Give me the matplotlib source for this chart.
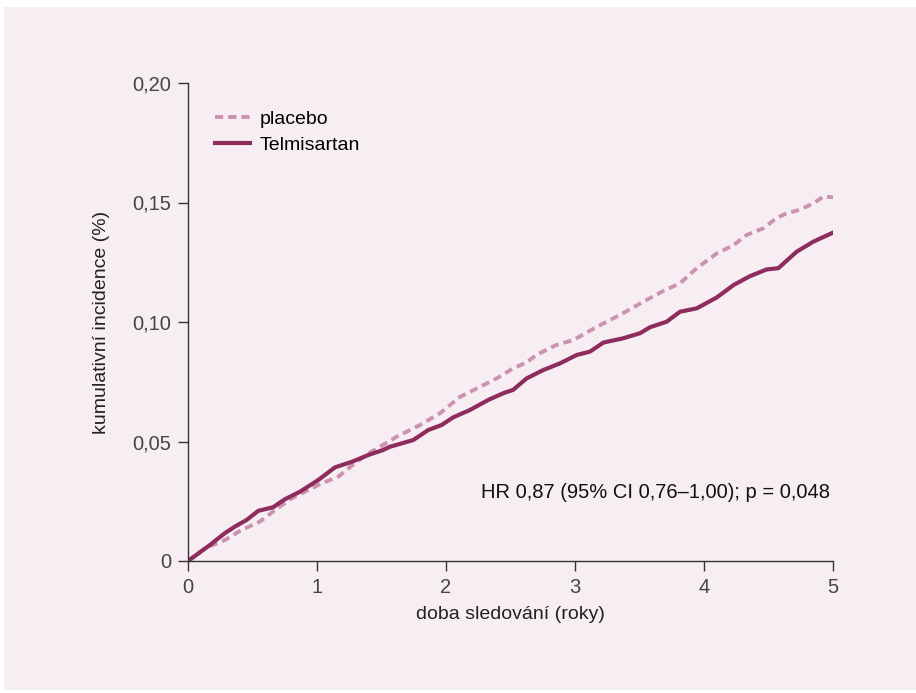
import matplotlib.pyplot as plt
from matplotlib.patches import Rectangle

# kumulativni incidence
placebo_t = [0, 0.132, 0.287, 0.416, 0.558, 0.674, 0.804, 0.907, 1.036, 1.165, 1.295, 1.42,
             1.51, 1.618, 1.798, 1.953, 2.109, 2.264, 2.393, 2.52, 2.625, 2.7, 2.856, 2.99,
             3.17, 3.35, 3.53, 3.685, 3.814, 3.943, 4.1, 4.23, 4.33, 4.46, 4.56, 4.64, 4.74,
             4.85, 4.925, 5.0]
placebo_y = [0, 0.0053, 0.0088, 0.0130, 0.0165, 0.0213, 0.0262, 0.0290, 0.0325, 0.0353, 0.0410,
             0.0457, 0.0485, 0.0520, 0.0569, 0.0618, 0.0687, 0.0729, 0.0764, 0.0806, 0.0831,
             0.0862, 0.0904, 0.0925, 0.0980, 0.1030, 0.1085, 0.1130, 0.1162, 0.1225, 0.1287,
             0.1322, 0.1364, 0.1392, 0.1434, 0.1455, 0.1469, 0.1497, 0.1525, 0.1522]

telmi_t = [0, 0.17, 0.235, 0.287, 0.364, 0.455, 0.545, 0.66, 0.75, 0.868, 1.01, 1.14, 1.27,
           1.4, 1.51, 1.565, 1.746, 1.862, 1.966, 2.056, 2.186, 2.328, 2.444, 2.52, 2.625,
           2.754, 2.884, 3.013, 3.116, 3.22, 3.375, 3.504, 3.581, 3.71, 3.814, 3.943, 4.1,
           4.23, 4.357, 4.486, 4.576, 4.718, 4.847, 5.0]
telmi_y = [0, 0.0067, 0.0095, 0.0117, 0.0144, 0.0172, 0.0210, 0.0225, 0.0258, 0.0290, 0.0339,
           0.0392, 0.0415, 0.0444, 0.0464, 0.0478, 0.0506, 0.0548, 0.0569, 0.0601, 0.0632,
           0.0674, 0.0702, 0.0716, 0.0764, 0.0799, 0.0827, 0.0862, 0.0876, 0.0914, 0.0932,
           0.0953, 0.0978, 0.1001, 0.1043, 0.1057, 0.1103, 0.1155, 0.1192, 0.1220, 0.1225,
           0.1294, 0.1336, 0.1374]

xticks = [0, 1, 2, 3, 4, 5]
yticks = [0, 0.05, 0.10, 0.15, 0.20]
ytick_labels = ['0', '0,05', '0,10', '0,15', '0,20']

bg = '#f7eef3'
c_placebo = '#cc93ad'
c_telmi = '#8e2d5d'

plt.rcParams['font.family'] = ['Liberation Sans', 'DejaVu Sans']

fig = plt.figure(figsize=(9.16, 6.93), dpi=100)
fig.patch.set_facecolor('white')
fig.patches.append(Rectangle((4 / 916, 3 / 693), 912 / 916, 683 / 693,
                             transform=fig.transFigure, facecolor=bg, edgecolor='none', zorder=-10))

ax = fig.add_axes([188 / 916, 1 - 561 / 693, 645 / 916, 478 / 693])
ax.set_facecolor('none')

ax.plot(placebo_t, placebo_y, color=c_placebo, lw=2.8, linestyle=(0, (2.1, 1.3)),
        label='placebo', solid_capstyle='butt')
ax.plot(telmi_t, telmi_y, color=c_telmi, lw=3.0, label='Telmisartan', solid_joinstyle='round')

ax.set_xlim(0, 5)
ax.set_ylim(0, 0.20)
ax.set_xticks(xticks)
ax.set_xticklabels([str(t) for t in xticks])
ax.set_yticks(yticks)
ax.set_yticklabels(ytick_labels)

for s in ['top', 'right']:
    ax.spines[s].set_visible(False)
for s in ['left', 'bottom']:
    ax.spines[s].set_color('#333333')
    ax.spines[s].set_linewidth(1.0)
ax.tick_params(direction='out', length=7, width=1.0, color='#333333',
               labelsize=14.5, labelcolor='#444444', pad=5)

ax.set_xlabel('doba sledování (roky)', fontsize=14, color='#222222', labelpad=7)
ax.set_ylabel('kumulativní incidence (%)', fontsize=14, color='#222222', labelpad=16)

ax.text(0.995, 0.144, 'HR 0,87 (95% CI 0,76\u20131,00); p = 0,048', transform=ax.transAxes,
        ha='right', va='center', fontsize=14.5, color='#111111')

leg = ax.legend(loc='upper left', bbox_to_anchor=(0.03, 0.96), frameon=False, fontsize=14,
                handlelength=1.8, handletextpad=0.5, labelspacing=0.45, borderaxespad=0)

fig.savefig('out.png', dpi=100, facecolor=fig.get_facecolor())
